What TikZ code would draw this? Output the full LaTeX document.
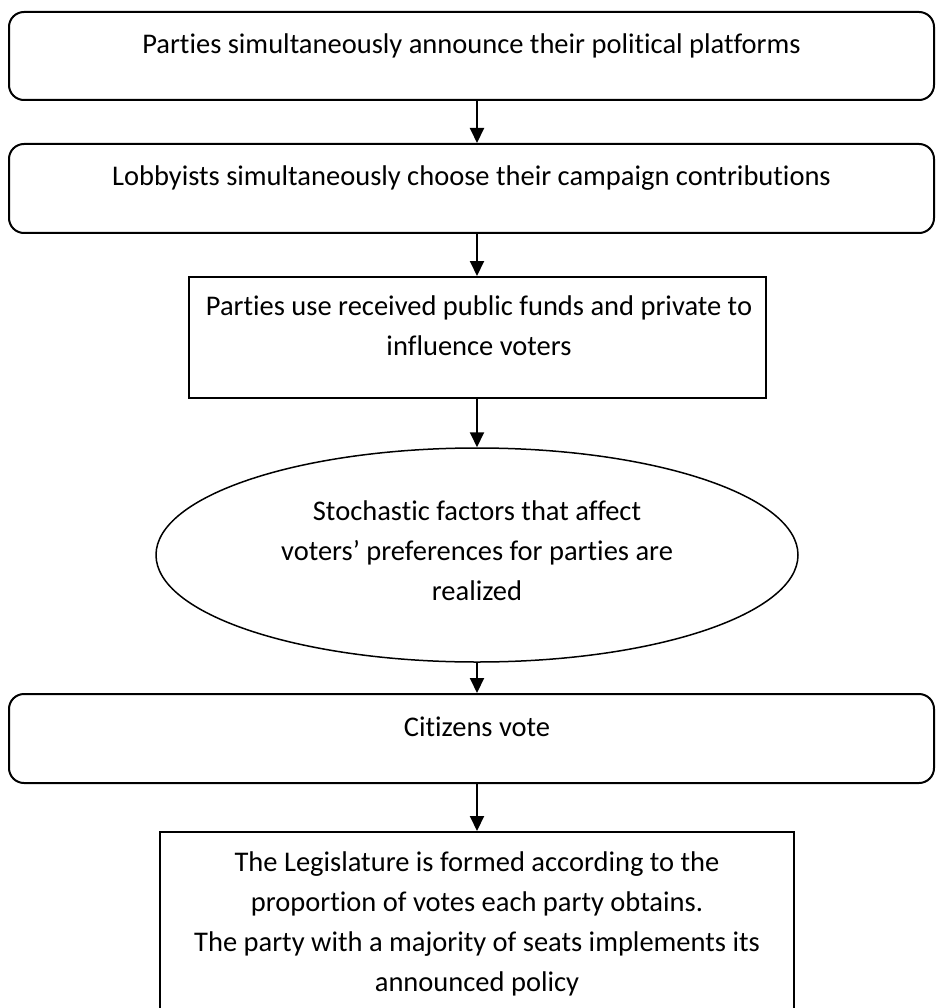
\documentclass[tikz,border=0pt]{standalone}
\usepackage{fontspec}
\setmainfont{Carlito}[Ligatures=NoCommon]
\usetikzlibrary{arrows.meta,shapes.geometric}
\begin{document}
\begin{tikzpicture}[x=1pt,y=-1pt,
  rbox/.style={draw, line width=2pt, rounded corners=15pt, inner sep=0pt},
  sbox/.style={draw, line width=2pt, inner sep=0pt},
  ebox/.style={draw, ellipse, line width=1.5pt, inner sep=0pt},
  lbl/.style={anchor=base, font=\fontsize{28.5}{40}\selectfont, inner sep=0pt},
  arr/.style={-{Triangle[width=14pt,length=15pt]}, line width=2pt}]
\useasboundingbox (0,0) rectangle (935,1008);
\clip (0,0) rectangle (935,1008);
\fill[white] (0,0) rectangle (935,1008);
% boxes
\node[rbox, minimum width=925pt, minimum height=88pt] (b1) at (471.5,56) {};
\node[rbox, minimum width=925pt, minimum height=89pt] (b2) at (471.5,188.5) {};
\node[sbox, minimum width=577pt, minimum height=121pt] (b3) at (477.5,337.5) {};
\node[ebox, minimum width=642pt, minimum height=214pt] (e) at (477,555) {};
\node[rbox, minimum width=925pt, minimum height=89pt] (b4) at (471.5,738.5) {};
\node[sbox, minimum width=634pt, minimum height=198pt] (b5) at (477,931) {};
% labels
\node[lbl] (t1) at (471.5,54) {Parties simultaneously announce their political platforms};
\node[lbl] (t2) at (471.5,186) {Lobbyists simultaneously choose their campaign contributions};
\node[lbl] (t3a) at (479,315) {Parties use received public funds and private to};
\node[lbl] (t3b) at (479,355) {influence voters};
\node[lbl] (tea) at (477,520) {Stochastic factors that affect};
\node[lbl] (teb) at (477,560) {voters’ preferences for parties are};
\node[lbl] (tec) at (477,600) {realized};
\node[lbl] (t4) at (477,736) {Citizens vote};
\node[lbl] (t5a) at (477,871) {The Legislature is formed according to the};
\node[lbl] (t5b) at (477,911) {proportion of votes each party obtains.};
\node[lbl] (t5c) at (477,951) {The party with a majority of seats implements its};
\node[lbl] (t5d) at (477,991) {announced policy};
% arrows
\draw[arr] (b1.south -| e.center) -- (b2.north -| e.center);
\draw[arr] (b2.south -| e.center) -- (b3.north -| e.center);
\draw[arr] (b3.south -| e.center) -- (e.north);
\draw[arr] (e.south) -- (b4.north -| e.center);
\draw[arr] (b4.south -| e.center) -- (b5.north -| e.center);
\end{tikzpicture}
\end{document}
